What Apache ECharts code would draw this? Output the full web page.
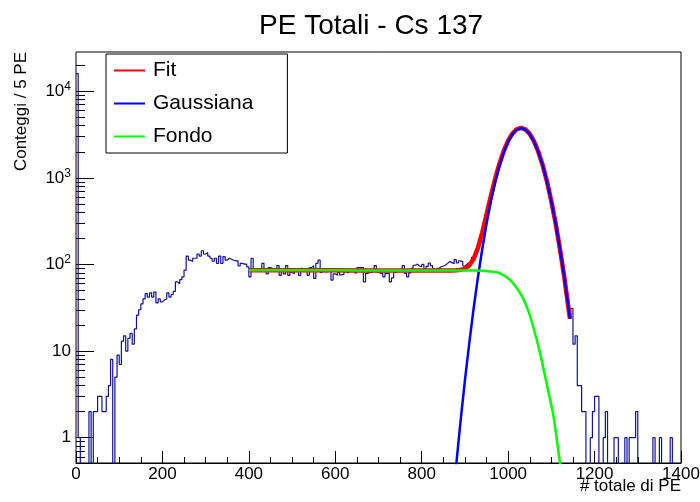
<!DOCTYPE html>
<html>
<head>
<meta charset="utf-8">
<script src="https://cdn.jsdelivr.net/npm/echarts@6/dist/echarts.min.js"></script>
<style>
html,body{margin:0;padding:0;background:#fff;}
#chart{width:700px;height:502px;}
</style>
</head>
<body>
<div id="chart"></div>
<script>
// ---- data ----
const binWidth = 5;            // PE per bin
const xMin = 0, xMax = 1400;
// counts per 5-PE bin, bin k covers [5k, 5k+5)
const counts = [
16000,1,0,0,0,0,2,0,2,2,
3,3,2,2,3,4,8,0,5,9,
7,13,15,10,14,16,12,18,26,30,
35,40,46,42,47,42,48,36,40,37,
39,40,47,42,45,49,63,60,67,72,
86,125,112,108,118,118,132,125,144,132,
137,125,118,109,118,103,125,103,123,112,
118,115,112,110,110,96,103,101,101,94,
72,118,88,86,87,89,103,88,78,92,
90,87,86,97,75,84,78,97,75,81,
78,84,85,75,90,87,86,75,92,97,
69,103,112,81,87,82,83,87,66,78,
75,81,76,77,82,80,84,86,86,80,
92,92,92,63,79,81,81,85,97,82,
79,79,72,79,79,63,70,81,82,86,
88,97,79,72,80,90,98,101,96,94,
100,88,95,104,97,89,83,90,94,96,
98,103,108,105,102,114,104,110,108,96,
101,105,108,121,127,146,168,214,259,340,
422,556,688,884,1080,1345,1598,1915,2202,2544,
2829,3140,3360,3585,3690,3790,3760,3712,3530,3355,
3070,2802,2461,2166,1822,1547,1249,1020,789,622,
459,352,247,184,122,87,57,40,24,31,
12,15,4,4,2,2,0,0,1,2,
3,3,0,0,1,2,0,0,0,1,
1,0,0,0,1,0,1,1,1,2,
0,0,0,0,0,0,0,1,0,0,
1,0,0,0,0,1,0,0,0,0
];
// total fit (red)
const fitX = [400,450,500,550,600,650,700,750,800,850,870,880,890,900,910,920,930,940,950,960,970,980,990,1000,1010,1020,1030,1040,1050,1060,1070,1080,1090,1100,1110,1120,1130,1143];
const fitY = [86,86,86,85.5,85.5,85,85,85,85,85,85.1,85.5,86.6,89.6,97.3,115.7,155.6,234,378.5,618,978,1466,2057,2686,3253,3647,3785,3629,3217,2632,1992,1392,901,537,296,150.5,71,23.6];
// Gaussian component (blue)
const gaussX = [860,870,880,890,900,910,920,930,940,950,960,970,980,990,1000,1010,1020,1030,1040,1050,1060,1070,1080,1090,1100,1110,1120,1130,1140,1143];
const gaussY = [0.04,0.145,0.496,1.57,4.58,12.3,30.7,70.8,150,295,535,897,1387,1982,2617,3191,3594,3740,3594,3191,2617,1982,1387,897,535,295,150,70.8,30.7,23.6];
// background component (green)
const fondoX = [400,500,600,700,800,900,927,958,981,1005,1028,1043,1058,1074,1089,1105,1120,1130,1143];
const fondoY = [86,86,85.5,85,85,85,85,83,79,66,46.5,32.6,19.1,9.4,4.24,1.75,0.51,0.25,0.08];

const yMin = 0.51, yMax = 28400;
const xTickInterval = 200;
const yMajorTicks = [1, 10, 100, 1000, 10000];
const yMinorMult = [2,3,4,5,6,7,8,9];

const legendNames = ['Fit', 'Gaussiana', 'Fondo'];
const titleText = 'PE Totali - Cs 137';
const xTitle = '# totale di PE';
const yTitle = 'Conteggi / 5 PE';

// ---- build ----
const FONT = '"Liberation Sans", Arial, Helvetica, sans-serif';
const zeroFloor = 0.1; // empty bins drawn down to the axis (clipped)
const histData = counts.map((c, i) => [i * binWidth, c > 0 ? c : zeroFloor]);
histData.push([counts.length * binWidth, counts[counts.length - 1] > 0 ? counts[counts.length - 1] : zeroFloor]);
const zip = (a, b) => a.map((v, i) => [v, b[i]]);

const L0 = Math.log10(yMin), L1 = Math.log10(yMax);
const majorLog = yMajorTicks.map(v => Math.log10(v));
const minorLog = [];
for (let d = -1; d <= 4; d++) {
  yMinorMult.forEach(m => {
    const lv = Math.log10(m * Math.pow(10, d));
    if (lv > L0 && lv < L1) minorLog.push(lv);
  });
}

const chart = echarts.init(document.getElementById('chart'), null, {renderer: 'canvas'});
chart.setOption({
  animation: false,
  backgroundColor: '#fff',
  title: {
    text: titleText, left: 259, top: 12, padding: 0,
    textStyle: {fontSize: 28, fontWeight: 'normal', color: '#000', fontFamily: FONT}
  },
  legend: {
    data: legendNames,
    orient: 'vertical', left: 106, top: 54,
    padding: [6, 34, 6, 7],
    itemGap: 12, itemWidth: 31, itemHeight: 21,
    selectedMode: false,
    itemStyle: {opacity: 0, borderWidth: 0},
    borderColor: '#000', borderWidth: 1, backgroundColor: '#fff',
    textStyle: {fontSize: 21, color: '#000', fontFamily: FONT, padding: [0, 0, 0, 3]}
  },
  grid: {
    left: 76, right: 19, top: 52, bottom: 39,
    show: true, borderColor: '#000', borderWidth: 1, backgroundColor: 'transparent',
    outerBoundsMode: 'none'
  },
  xAxis: {
    type: 'value', min: xMin, max: xMax, interval: xTickInterval,
    axisLine: {show: true, onZero: false, lineStyle: {color: '#000', width: 1}},
    axisTick: {show: true, inside: true, length: 12, lineStyle: {color: '#000'}},
    minorTick: {show: true, splitNumber: 4, length: 6, lineStyle: {color: '#000'}},
    splitLine: {show: false},
    axisLabel: {
      fontSize: 17, color: '#000', fontFamily: FONT, margin: 3,
      showMinLabel: true, showMaxLabel: true, hideOverlap: false,
      formatter: v => String(v)
    }
  },
  yAxis: [
    {
      type: 'log', logBase: 10, min: yMin, max: yMax,
      axisLine: {show: false}, axisTick: {show: false}, axisLabel: {show: false},
      splitLine: {show: false}, minorTick: {show: false}
    },
    {
      type: 'value', min: L0, max: L1, position: 'left',
      axisLine: {show: false, onZero: false}, splitLine: {show: false},
      axisTick: {show: true, inside: true, length: 18, customValues: majorLog, lineStyle: {color: '#000'}},
      axisLabel: {
        show: true, customValues: majorLog, margin: 5,
        fontSize: 17, color: '#000', fontFamily: FONT,
        formatter: function (v) {
          const p = Math.round(v);
          if (p === 0) return '1';
          if (p === 1) return '10';
          return '10{sup|' + p + '}';
        },
        rich: {sup: {fontSize: 12, color: '#000', fontFamily: FONT, padding: [0, 0, 9, 0]}}
      }
    },
    {
      type: 'value', min: L0, max: L1, position: 'left',
      axisLine: {show: false, onZero: false}, splitLine: {show: false},
      axisTick: {show: true, inside: true, length: 9, customValues: minorLog, lineStyle: {color: '#000'}},
      axisLabel: {show: false}
    }
  ],
  graphic: [
    {
      type: 'text', x: 681, y: 486, silent: true,
      style: {text: xTitle, font: '17px ' + FONT, fill: '#000', align: 'right', verticalAlign: 'middle', textAlign: 'right', textVerticalAlign: 'middle'}
    },
    {
      type: 'text', x: 21.5, y: 52, rotation: Math.PI / 2, silent: true,
      style: {text: yTitle, font: '17px ' + FONT, fill: '#000', align: 'right', verticalAlign: 'middle', textAlign: 'right', textVerticalAlign: 'middle'}
    }
  ],
  series: [
    {
      name: 'Dati', type: 'line', yAxisIndex: 0, step: 'end', data: histData,
      symbol: 'none', clip: true, silent: true,
      lineStyle: {color: '#12129a', width: 1.2}
    },
    {
      name: 'Fit', type: 'line', yAxisIndex: 0, data: zip(fitX, fitY),
      symbol: 'none', clip: true, silent: true,
      lineStyle: {color: '#ff0000', width: 4.5}, itemStyle: {color: '#ff0000'}
    },
    {
      name: 'Gaussiana', type: 'line', yAxisIndex: 0, data: zip(gaussX, gaussY),
      symbol: 'none', clip: true, silent: true,
      lineStyle: {color: '#0000ff', width: 2.5}, itemStyle: {color: '#0000ff'}
    },
    {
      name: 'Fondo', type: 'line', yAxisIndex: 0, data: zip(fondoX, fondoY),
      symbol: 'none', clip: true, silent: true, smooth: 0.3,
      lineStyle: {color: '#00ff00', width: 2.5}, itemStyle: {color: '#00ff00'}
    }
  ]
});
</script>
</body>
</html>
